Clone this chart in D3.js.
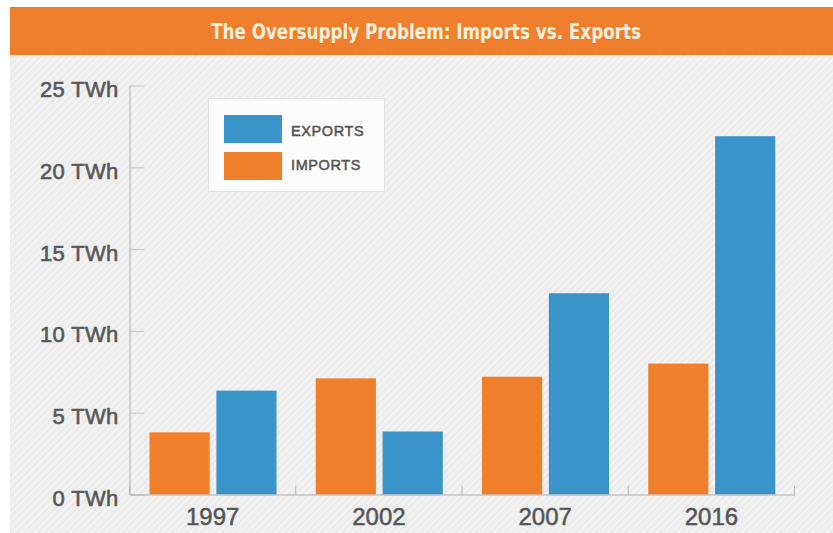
<!DOCTYPE html>
<html>
<head>
<meta charset="utf-8">
<script src="https://cdn.jsdelivr.net/npm/d3@7"></script>
<style>
  html, body { margin: 0; padding: 0; background: #ffffff; }
  svg { display: block; }
</style>
</head>
<body>
<svg id="chart" width="833" height="533"></svg>
<script>
// ---- data ----
const titleText = "The Oversupply Problem: Imports vs. Exports";
const years = ["1997", "2002", "2007", "2016"];
const imports = [3.8, 7.1, 7.2, 8.0];
const exports = [6.35, 3.85, 12.3, 21.9];
const yTicks = [0, 5, 10, 15, 20, 25];
const seriesKeys = ["imports", "exports"];
const seriesLabels = ["EXPORTS", "IMPORTS"];

const colors = { imports: "#f07f2b", exports: "#3a94c9" };

const svg = d3.select("#chart");
const W = 833, H = 533;

// background with diagonal hatch
const defs = svg.append("defs");
const pat = defs.append("pattern")
  .attr("id", "hatch")
  .attr("patternUnits", "userSpaceOnUse")
  .attr("width", 5).attr("height", 5)
  .attr("patternTransform", "rotate(45)");
pat.append("rect").attr("width", 5).attr("height", 5).attr("fill", "#ececec");
pat.append("rect").attr("width", 1.6).attr("height", 5).attr("fill", "#f5f5f5");

svg.append("rect").attr("x", 10).attr("y", 55).attr("width", W - 10).attr("height", H - 55)
  .attr("fill", "url(#hatch)");

// title bar
svg.append("rect").attr("x", 10).attr("y", 7).attr("width", W - 10).attr("height", 48)
  .attr("fill", "#ef7f2c");
svg.append("text")
  .attr("x", 426).attr("y", 38.5)
  .attr("text-anchor", "middle")
  .attr("font-family", "'Liberation Sans Narrow', 'DejaVu Sans Condensed', 'Liberation Sans', sans-serif")
  .attr("font-weight", "bold")
  .attr("font-size", 21)
  .attr("fill", "#fdf0dc")
  .attr("textLength", 430)
  .attr("lengthAdjust", "spacingAndGlyphs")
  .text(titleText);

// scales
const y = d3.scaleLinear().domain([0, 25]).range([494.5, 85.5]);
const x = d3.scaleBand().domain(years).range([129.5, 794.5]).padding(0);
const x1 = d3.scaleBand().domain(seriesKeys).range([20, 147]).paddingInner(0.1);

// y axis
const yAxis = d3.axisLeft(y).tickValues(yTicks).tickSizeInner(-15).tickSizeOuter(0)
  .tickPadding(11).tickFormat(d => d + " TWh");
const gy = svg.append("g").attr("transform", "translate(129.5,0)").call(yAxis);
gy.select(".domain").attr("stroke", "#b0b0b0");
gy.selectAll(".tick line").attr("stroke", "#c4c4c4");
gy.selectAll(".tick text")
  .attr("dy", "0.5em")
  .attr("font-family", "'Liberation Sans', Arial, sans-serif")
  .attr("font-size", 22)
  .attr("letter-spacing", 0.3)
  .attr("fill", "#585858")
  .attr("stroke", "#585858")
  .attr("stroke-width", 0.6);

// bars
const data = years.map((yr, i) => ({ year: yr, imports: imports[i], exports: exports[i] }));
const groups = svg.append("g").selectAll("g").data(data).join("g")
  .attr("transform", d => `translate(${x(d.year)},0)`);
groups.selectAll("rect")
  .data(d => seriesKeys.map(k => ({ key: k, value: d[k] })))
  .join("rect")
  .attr("x", d => x1(d.key))
  .attr("width", x1.bandwidth())
  .attr("y", d => y(d.value))
  .attr("height", d => y(0) - y(d.value))
  .attr("fill", d => colors[d.key]);

// x axis
const xAxis = d3.axisBottom(x).tickSize(0).tickPadding(0);
const gx = svg.append("g").attr("transform", `translate(0,${y(0)})`).call(xAxis);
gx.select(".domain").attr("stroke", "#b0b0b0");
gx.selectAll(".tick text")
  .attr("y", 30.5).attr("dy", 0)
  .attr("font-family", "'Liberation Sans', Arial, sans-serif")
  .attr("font-size", 24)
  .attr("fill", "#555555")
  .attr("stroke", "#555555")
  .attr("stroke-width", 0.5);
// boundary ticks
const bounds = years.map(d => x(d)).concat([x.range()[1]]);
gx.selectAll(".bound").data(bounds).join("line")
  .attr("class", "bound")
  .attr("x1", d => d).attr("x2", d => d)
  .attr("y1", 0).attr("y2", -9)
  .attr("stroke", "#b8b8b8");

// legend
const lg = svg.append("g");
lg.append("rect").attr("x", 208.5).attr("y", 98.5).attr("width", 176).attr("height", 93)
  .attr("fill", "#fcfcfc").attr("stroke", "#e2e2e2");
const legendKeys = ["exports", "imports"];
legendKeys.forEach((k, i) => {
  lg.append("rect").attr("x", 224).attr("y", 115 + i * 37).attr("width", 58).attr("height", 28)
    .attr("fill", colors[k]);
  lg.append("text").attr("x", 291).attr("y", 136 + i * 34)
    .attr("font-family", "'Liberation Sans', Arial, sans-serif")
    .attr("font-size", 14.5)
    .attr("letter-spacing", 0.6)
    .attr("fill", "#555555")
    .attr("stroke", "#555555")
    .attr("stroke-width", 0.5)
    .text(seriesLabels[i]);
});
</script>
</body>
</html>
